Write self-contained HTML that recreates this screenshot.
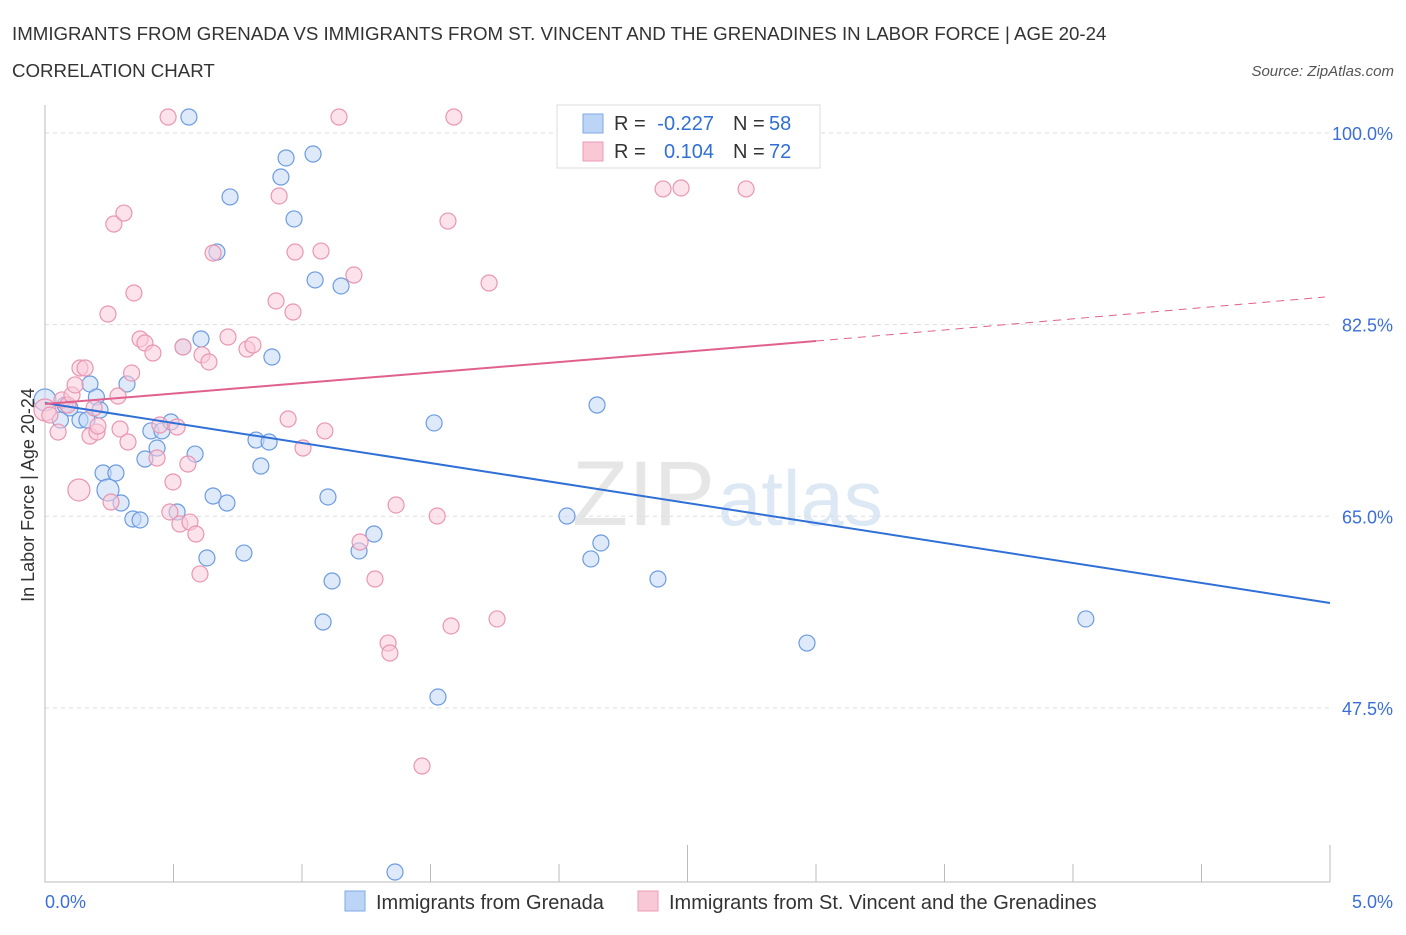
<!DOCTYPE html>
<html><head><meta charset="utf-8"><style>
body{margin:0;background:#fff;font-family:"Liberation Sans",sans-serif;}
svg text{font-family:"Liberation Sans",sans-serif;}
</style></head><body>
<svg id="c" width="1406" height="930">
<text x="12" y="40" font-size="18.7" fill="#333">IMMIGRANTS FROM GRENADA VS IMMIGRANTS FROM ST. VINCENT AND THE GRENADINES IN LABOR FORCE | AGE 20-24</text>
<text x="12" y="77" font-size="18.7" fill="#333">CORRELATION CHART</text>
<text x="1394" y="76" font-size="15" fill="#555" font-style="italic" text-anchor="end">Source: ZipAtlas.com</text>
<text x="715" y="525" font-size="92" fill="#e6e6e6" text-anchor="end" font-family="Liberation Serif">ZIP</text>
<text x="718" y="525" font-size="78" fill="#dde8f5">atlas</text>
<g id="grid"></g><g id="marks"></g>
<text x="34" y="495" font-size="18" fill="#333" text-anchor="middle" transform="rotate(-90 34 495)">In Labor Force | Age 20-24</text>
<text x="45" y="908" font-size="18" fill="#3a6fd8">0.0%</text>
<text x="1393" y="908" font-size="18" fill="#3a6fd8" text-anchor="end">5.0%</text>
<g>
<rect x="345" y="891" width="20" height="20" fill="#bcd4f6" stroke="#7fa7e6"/>
<text x="376" y="909" font-size="20" fill="#333">Immigrants from Grenada</text>
<rect x="638" y="891" width="20" height="20" fill="#f8c8d6" stroke="#ec9bb5"/>
<text x="669" y="909" font-size="20" fill="#333">Immigrants from St. Vincent and the Grenadines</text>
</g>
<g font-size="20">
<rect x="557" y="105" width="263" height="63" fill="#fff" stroke="#ddd"/>
<rect x="583" y="114" width="20" height="19" fill="#bcd4f6" stroke="#7fa7e6"/>
<rect x="583" y="142" width="20" height="19" fill="#f8c8d6" stroke="#ec9bb5"/>
<text x="614" y="130" fill="#333">R =</text>
<text x="714" y="130" fill="#2f6fd6" text-anchor="end">-0.227</text>
<text x="733" y="130" fill="#333">N =</text>
<text x="769" y="130" fill="#2f6fd6">58</text>
<text x="614" y="158" fill="#333">R =</text>
<text x="714" y="158" fill="#2f6fd6" text-anchor="end">0.104</text>
<text x="733" y="158" fill="#333">N =</text>
<text x="769" y="158" fill="#2f6fd6">72</text>
</g>
</svg>
<script>
const yTicks=[100,82.5,65,47.5];
const blueX=[0,0.06,0.175,0.2,0.214,0.136,0.163,0.319,0.226,0.276,0.245,0.296,0.342,0.37,0.389,0.412,0.436,0.455,0.49,0.514,0.537,0.584,0.607,0.63,0.654,0.669,0.708,0.72,0.774,0.821,0.84,0.872,0.883,0.918,0.938,0.969,1.043,1.051,1.082,1.101,1.117,1.152,1.222,1.28,1.362,1.514,1.529,2.031,2.124,2.148,2.163,2.385,2.965,4.05,0.56,2.72,0.078,0.097];
const blueY=[75.62,73.79,77.08,75.89,74.7,73.79,73.79,77.08,68.95,68.95,67.4,66.21,64.75,64.66,70.23,72.79,71.23,72.79,73.61,65.39,80.46,70.68,81.19,61.19,66.85,89.13,66.21,94.16,61.64,71.96,69.59,71.78,79.54,95.98,97.72,92.15,98.08,86.58,55.34,66.76,59.09,86.03,61.83,63.38,32.51,73.52,48.49,65.02,61.1,75.16,62.56,59.27,53.42,55.62,101.46,101.46,75.16,74.89];
const pinkX=[0,0.019,0.051,0.066,0.089,0.105,0.117,0.136,0.156,0.132,0.175,0.191,0.202,0.206,0.245,0.257,0.268,0.284,0.292,0.307,0.323,0.337,0.346,0.37,0.389,0.42,0.436,0.447,0.479,0.486,0.498,0.514,0.525,0.537,0.556,0.564,0.587,0.603,0.611,0.638,0.654,0.712,0.786,0.809,0.899,0.911,0.946,0.965,0.973,1.004,1.074,1.089,1.144,1.202,1.226,1.284,1.335,1.342,1.366,1.467,1.526,1.568,1.58,1.591,1.728,1.759,2.405,2.475,2.728];
const pinkY=[74.7,74.25,72.69,75.62,75.16,76.07,76.99,78.54,78.54,67.4,72.33,74.89,72.69,73.24,83.47,66.3,91.69,75.98,72.97,92.69,71.78,78.08,85.39,81.19,80.82,79.91,70.32,73.33,101.46,65.39,68.13,73.15,64.29,80.46,69.77,64.47,63.38,59.73,79.73,79.09,89.04,81.37,80.27,80.64,84.66,94.25,73.88,83.65,89.13,71.23,89.22,72.79,101.46,87.03,62.65,59.27,53.42,52.51,66.03,42.19,65.02,91.96,54.98,101.46,86.3,55.62,94.89,94.98,94.89];
const blueLine=[75.34,57.08], pinkLine=[75.25,81.0,85.02], pinkSolidEnd=3.0;
const X=v=>45+v/5*1285, Y=v=>133+(100-v)*10.95;
const NS='http://www.w3.org/2000/svg';
const g=document.getElementById('grid'), m=document.getElementById('marks');
function mk(p,tag,at){const e=document.createElementNS(NS,tag);for(const k in at)e.setAttribute(k,at[k]);p.appendChild(e);return e;}
yTicks.forEach((t,i)=>{
 const l=mk(g,'line',{x1:45,x2:1330,y1:Y(t),y2:Y(t),stroke:'#ddd','stroke-dasharray':'4 4'});
 
 
 const tx=mk(g,'text',{x:1393,y:Y(t)+7,'font-size':18,fill:'#3a6fd8','text-anchor':'end'});tx.textContent=t.toFixed(1)+'%';
 
 
});
const ax=mk(g,'path',{d:'M45 105V882H1330',stroke:'#bbb',fill:'none'});


for(let i=1;i<=10;i++){const x=X(i*0.5);const t=mk(g,'line',{x1:x,x2:x,y1:i%5==0?845:864,y2:882,stroke:'#bbb'});
 
 }
function pts(xs,ys,fill,stroke,name){xs.forEach((v,i)=>{const big=(i==0||(name=='pink-point'&&i==9)||(name=='blue-point'&&i==10));
 const c=mk(m,'circle',{cx:X(v),cy:Y(ys[i]),r:big?11:8,fill:fill,'fill-opacity':0.55,stroke:stroke,'stroke-width':1.2});
 
 });}
pts(blueX,blueY,'#c3d8f5','#6c9be0','blue-point');
pts(pinkX,pinkY,'#f9cbd9','#e996b1','pink-point');
const bl=mk(m,'line',{x1:X(0),y1:Y(blueLine[0]),x2:X(5),y2:Y(blueLine[1]),stroke:'#2f6fd6','stroke-width':2});


const ps=mk(m,'line',{x1:X(0),y1:Y(pinkLine[0]),x2:X(pinkSolidEnd),y2:Y(pinkLine[1]),stroke:'#e0608e','stroke-width':2});


const pd=mk(m,'line',{x1:X(pinkSolidEnd),y1:Y(pinkLine[1]),x2:X(4.98),y2:Y(pinkLine[2]),stroke:'#e0608e','stroke-width':1,'stroke-dasharray':'8 6'});


</script>
</body></html>
